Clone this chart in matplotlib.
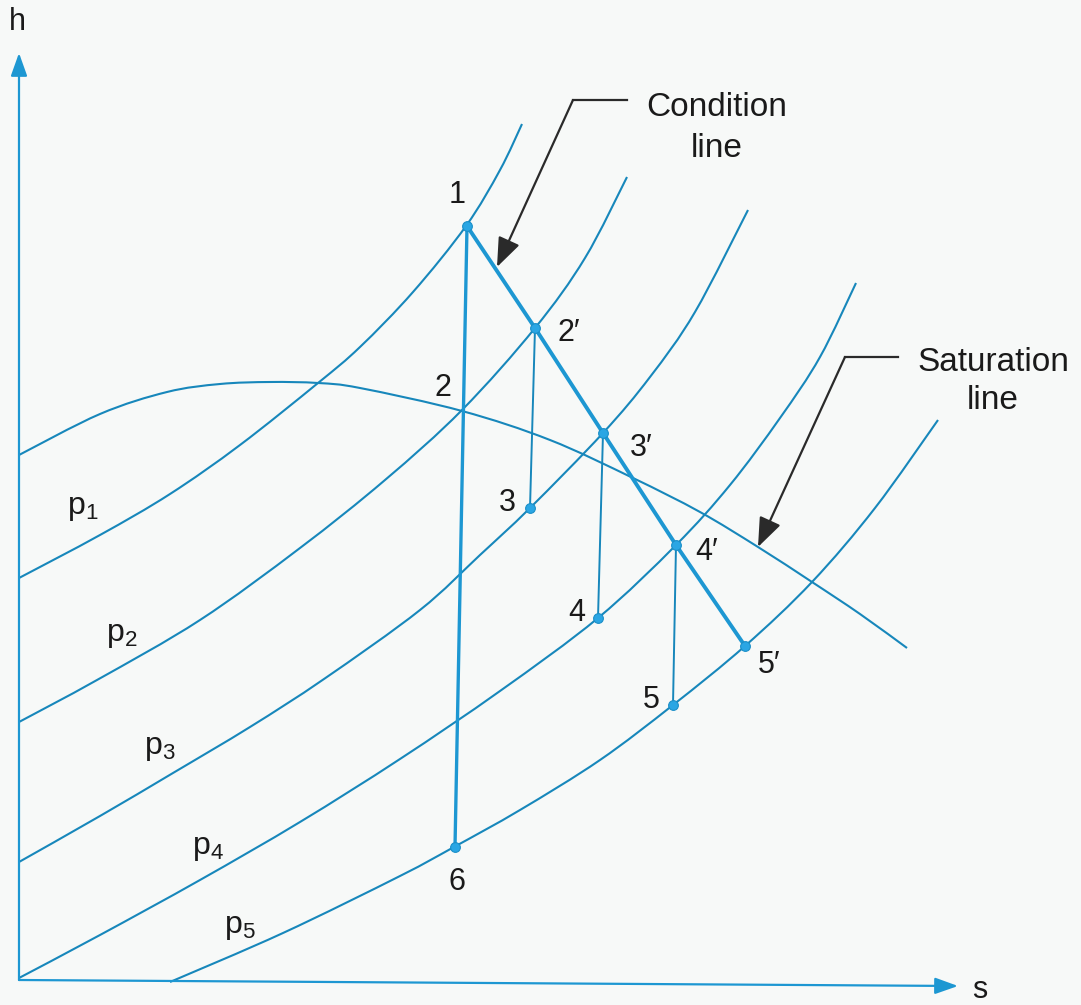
import matplotlib
matplotlib.use("Agg")
import matplotlib.pyplot as plt
from matplotlib.path import Path
from matplotlib.patches import PathPatch

plt.rcParams['font.family'] = ['Liberation Sans', 'DejaVu Sans']
plt.rcParams['mathtext.fontset'] = 'custom'
plt.rcParams['mathtext.rm'] = 'Liberation Sans'
plt.rcParams['mathtext.it'] = 'Liberation Sans:italic'

# constant pressure lines p1..p5 on the h-s chart (s, h)
p1_s = [19, 100, 170, 240, 318, 360, 413, 466, 500, 522]
p1_h = [427, 470, 511, 560, 622, 658, 713, 779, 835, 881]
p2_s = [19, 97, 200, 300, 385, 462, 535, 585, 627]
p2_h = [283, 325, 385, 457, 525, 595, 677, 747, 828]
p3_s = [19, 100, 173, 250, 324, 420, 480, 530, 603, 650, 695, 748]
p3_h = [143, 189, 232, 278, 326, 395, 450, 497, 572, 628, 693, 795]
p4_s = [19, 100, 200, 300, 400, 500, 598, 676, 730, 780, 820, 856]
p4_h = [27, 70, 125, 183, 246, 314, 387, 460, 520, 587, 648, 722]
p5_s = [170, 283, 400, 454, 520, 600, 673, 745, 812, 875, 938]
p5_h = [23, 72, 129, 158, 195, 245, 300, 359, 423, 497, 585]

isobar_s = [p1_s, p2_s, p3_s, p4_s, p5_s]
isobar_h = [p1_h, p2_h, p3_h, p4_h, p5_h]
isobar_names = [r'$\mathrm{p}_1$', r'$\mathrm{p}_2$', r'$\mathrm{p}_3$',
                r'$\mathrm{p}_4$', r'$\mathrm{p}_5$']
isobar_label_s = [83, 122, 160, 208, 240]
isobar_label_h = [497, 370, 257, 157, 78]

# saturated vapour line
sat_s = [19, 100, 167, 220, 270, 318, 360, 462, 550, 633, 700, 758, 812, 860, 907]
sat_h = [550, 591, 613, 621, 623, 622, 617, 594, 565, 527, 493, 458, 423, 391, 357]

# state points
state = {
    "1": (467, 779), "2": (462, 595), "2′": (535, 677),
    "3": (530, 497), "3′": (603, 572), "4": (598, 387),
    "4′": (676, 460), "5": (673, 300), "5′": (745, 359),
    "6": (455, 158),
}
state_label_pos = {
    "1": (457, 810), "2": (443, 617), "2′": (569, 672),
    "3": (507, 502), "3′": (641, 557), "4": (577, 392),
    "4′": (707, 453), "5": (651, 305), "5′": (769, 340),
    "6": (457, 123),
}
condition_line = ["1", "2′", "3′", "4′", "5′"]
isentropic_drops = [("2′", "3"), ("3′", "4"), ("4′", "5")]
dotted_points = ["1", "2′", "3", "3′", "4", "4′", "5", "5′", "6"]

LINE = '#1787bb'
BRIGHT = '#1d97d2'
DOT = '#2aa6e4'
INK = '#1a1a1a'


def smooth_curve(ax, xs, ys, **kw):
    # Catmull-Rom through the read points, handed to matplotlib as cubic Beziers
    pts = list(zip(xs, ys))
    verts = [pts[0]]
    codes = [Path.MOVETO]
    n = len(pts)
    for i in range(n - 1):
        p0 = pts[i - 1] if i > 0 else pts[i]
        p1, p2 = pts[i], pts[i + 1]
        p3 = pts[i + 2] if i + 2 < n else pts[i + 1]
        c1 = (p1[0] + (p2[0] - p0[0]) / 6, p1[1] + (p2[1] - p0[1]) / 6)
        c2 = (p2[0] - (p3[0] - p1[0]) / 6, p2[1] - (p3[1] - p1[1]) / 6)
        verts += [c1, c2, p2]
        codes += [Path.CURVE4] * 3
    ax.add_patch(PathPatch(Path(verts, codes), fill=False, **kw))


fig = plt.figure(figsize=(10.81, 10.05), dpi=100, facecolor='#f7f9f8')
ax = fig.add_axes([0, 0, 1, 1])
ax.set_xlim(0, 1081)
ax.set_ylim(0, 1005)
ax.axis('off')

# axes with arrow heads
arrow_kw = dict(arrowstyle='-|>,head_length=0.7,head_width=0.25', color=BRIGHT,
                lw=1.6, shrinkA=0, shrinkB=0, mutation_scale=20)
ax.annotate('', xy=(19, 952), xytext=(19, 25), arrowprops=arrow_kw)
ax.annotate('', xy=(958, 19), xytext=(19, 25), arrowprops=arrow_kw)
ax.text(17, 983, 'h', fontsize=22, color=INK, ha='center', va='center')
ax.text(980, 15, 's', fontsize=22, color=INK, ha='center', va='center')

# isobars
for s, h, name, ls, lh in zip(isobar_s, isobar_h, isobar_names,
                              isobar_label_s, isobar_label_h):
    smooth_curve(ax, s, h, edgecolor=LINE, lw=1.5)
    ax.text(ls, lh, name, fontsize=23, color=INK, ha='center', va='center')

# saturation line
smooth_curve(ax, sat_s, sat_h, edgecolor=LINE, lw=1.5)

# isentropic expansion 1-2-6
ax.plot([state["1"][0], state["6"][0]], [state["1"][1], state["6"][1]],
        color=BRIGHT, lw=2.4)

# isentropic drops in each stage
for a, b in isentropic_drops:
    ax.plot([state[a][0], state[b][0]], [state[a][1], state[b][1]],
            color=LINE, lw=1.4)

# condition line
ax.plot([state[k][0] for k in condition_line],
        [state[k][1] for k in condition_line], color=BRIGHT, lw=2.8)

ax.plot([state[k][0] for k in dotted_points], [state[k][1] for k in dotted_points],
        ls='none', marker='o', ms=7, mfc=DOT, mec='#1b8fc8', mew=0.8)

for k, (x, y) in state_label_pos.items():
    ax.text(x, y, k, fontsize=22, color=INK, ha='center', va='center')

# callouts
lead_kw = dict(arrowstyle='-|>,head_length=0.9,head_width=0.35', color='#2a2a2a',
               lw=1.6, shrinkA=0, shrinkB=0, mutation_scale=20)
ax.plot([627, 573], [905, 905], color='#2a2a2a', lw=1.6)
ax.annotate('', xy=(497, 738), xytext=(573, 905), arrowprops=lead_kw)
ax.text(717, 898, 'Condition', fontsize=24, color=INK, ha='center', va='center')
ax.text(717, 857, 'line', fontsize=24, color=INK, ha='center', va='center')

ax.plot([898, 845], [648, 648], color='#2a2a2a', lw=1.6)
ax.annotate('', xy=(758, 458), xytext=(845, 648), arrowprops=lead_kw)
ax.text(993, 643, 'Saturation', fontsize=24, color=INK, ha='center', va='center')
ax.text(993, 605, 'line', fontsize=24, color=INK, ha='center', va='center')

fig.savefig('out.png', dpi=100, facecolor=fig.get_facecolor())
